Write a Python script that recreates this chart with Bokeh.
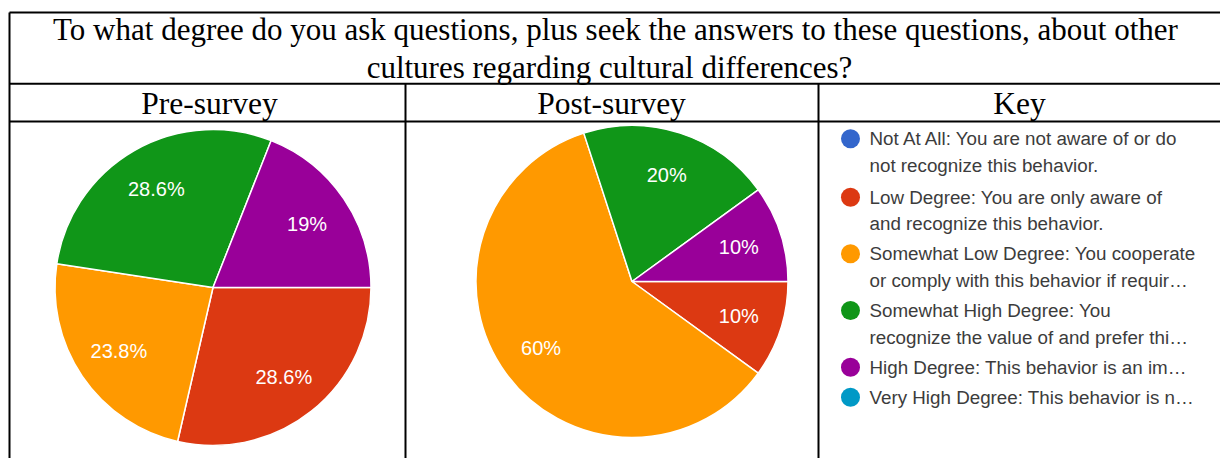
import math
from bokeh.plotting import figure
from bokeh.models import Range1d, ColumnDataSource
from bokeh.core.properties import value
from bokeh.embed import file_html
from bokeh.resources import INLINE

# ---------------- data ----------------
title_lines = [
    "To what degree do you ask questions, plus seek the answers to these questions, about other",
    "cultures regarding cultural differences?",
]
column_headers = ["Pre-survey", "Post-survey", "Key"]
categories = [
    "Not At All",
    "Low Degree",
    "Somewhat Low Degree",
    "Somewhat High Degree",
    "High Degree",
    "Very High Degree",
]
legend_lines = [
    ["Not At All: You are not aware of or do", "not recognize this behavior."],
    ["Low Degree: You are only aware of", "and recognize this behavior."],
    ["Somewhat Low Degree: You cooperate", "or comply with this behavior if requir\u2026"],
    ["Somewhat High Degree: You", "recognize the value of and prefer thi\u2026"],
    ["High Degree: This behavior is an im\u2026"],
    ["Very High Degree: This behavior is n\u2026"],
]
colors = ["#3366cc", "#dc3912", "#ff9900", "#109618", "#990099", "#0099c6"]
pre_values = [0, 28.6, 23.8, 28.6, 19, 0]
post_values = [0, 10, 60, 20, 10, 0]

# ---------------- layout ----------------
W, H = 1220, 458


def Y(sy):
    return H - sy


p = figure(width=W, height=H, x_range=Range1d(0, W), y_range=Range1d(0, H),
           output_backend="svg", toolbar_location=None, min_border=0,
           x_axis_location=None, y_axis_location=None)
p.grid.visible = False
p.outline_line_color = None
p.background_fill_color = "white"
p.border_fill_color = "white"

# table rules
hx0 = [9, 9, 9]
hx1 = [W, W, W]
hy = [12, 83.3, 121]
p.segment(x0=hx0, y0=[Y(v) for v in hy], x1=hx1, y1=[Y(v) for v in hy],
          line_color="black", line_width=2)
vx = [9, 405, 818]
vy0 = [12, 83.3, 83.3]
p.segment(x0=vx, y0=[Y(v) for v in vy0], x1=vx, y1=[Y(H + 5)] * 3,
          line_color="black", line_width=2)

BASE_SHIFT = 9.5  # svg alphabetic baseline compensation

# title
p.text(x=[615, 609], y=[Y(38 - BASE_SHIFT), Y(76 - BASE_SHIFT)], text=title_lines,
       text_font=value("Liberation Serif"), text_font_size="31px",
       text_align="center", text_baseline="alphabetic", text_color="black")

# column headers
p.text(x=[209, 611, 1019], y=[Y(112 - BASE_SHIFT)] * 3, text=column_headers,
       text_font=value("Liberation Serif"), text_font_size="31.5px",
       text_align="center", text_baseline="alphabetic", text_color="black")


def draw_pie(vals, cx, cy, r):
    total = float(sum(vals))
    starts, ends, cols, lx, ly, lt = [], [], [], [], [], []
    acc = 0.0
    for v, c in zip(vals, colors):
        if v <= 0:
            continue
        a0 = acc / total * 2 * math.pi
        acc += v
        a1 = acc / total * 2 * math.pi
        # clockwise from 3 o'clock
        starts.append(-a1)
        ends.append(-a0)
        cols.append(c)
        mid = (a0 + a1) / 2
        lx.append(cx + 0.72 * r * math.cos(mid))
        ly.append(Y(cy) - 0.72 * r * math.sin(mid))
        lt.append(f"{v:g}%")
    src = ColumnDataSource(dict(start=starts, end=ends, color=cols))
    p.wedge(x=cx, y=Y(cy), radius=r, start_angle="start", end_angle="end",
            fill_color="color", line_color="white", line_width=1.5, source=src)
    p.text(x=lx, y=ly, text=lt, text_font=value("Liberation Sans"),
           text_font_size="20px", text_align="center", text_baseline="middle",
           text_color="white")


draw_pie(pre_values, 212.5, 287, 158)
draw_pie(post_values, 631.5, 281, 156)

# key / legend
first_line_y = [138.3, 196.7, 253.3, 310, 366.7, 396.7]
cx_, cy_, tx_, ty_, tt_ = [], [], [], [], []
for lines, y0 in zip(legend_lines, first_line_y):
    cy_.append(Y(y0))
    cx_.append(850)
    for i, t in enumerate(lines):
        tx_.append(869)
        ty_.append(Y(y0 + i * 26.5))
        tt_.append(t)
p.scatter(x=cx_, y=cy_, size=19, marker="circle", fill_color=colors,
          line_color=None)
p.text(x=tx_, y=ty_, text=tt_, text_font=value("Liberation Sans"),
       text_font_size="18.8px", text_align="left", text_baseline="middle",
       text_color="#3c3c3c")

open("out.html", "w").write(file_html(p, INLINE))
